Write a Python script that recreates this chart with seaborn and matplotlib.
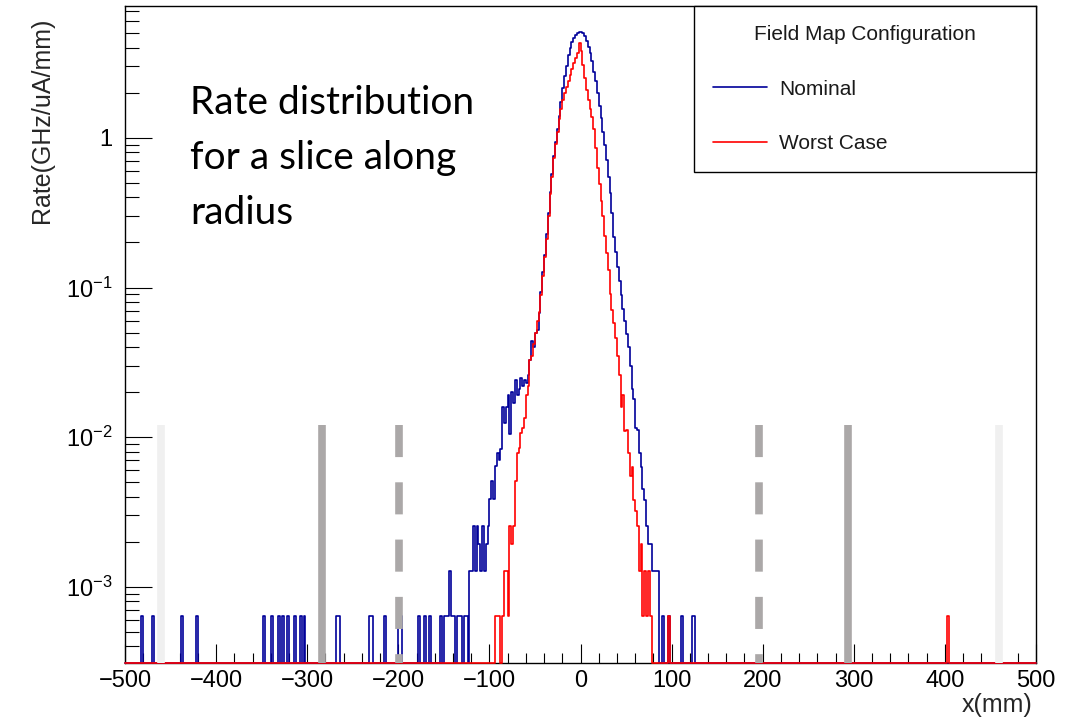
import numpy as np
import pandas as pd
import matplotlib
matplotlib.use("Agg")
import matplotlib.pyplot as plt
import seaborn as sns
from matplotlib.lines import Line2D
from matplotlib.ticker import (LogLocator, MultipleLocator, FixedLocator,
                               FixedFormatter, NullFormatter)

# binning of the histograms (mm)
x_lo, x_hi, bin_w = -500, 500, 2

# Rate (GHz/uA/mm) per 2 mm bin
# Nominal field map, bins from left edge -154 mm
nominal_start = -154
nominal_rate = [
    6.4e-4, 0, 6.4e-4, 6.4e-4, 6.4e-4, 1.28e-3, 6.4e-4, 6.4e-4, 0, 6.4e-4,
    6.4e-4, 6.4e-4, 0, 6.4e-4, 6.4e-4, 0, 1.28e-3, 1.28e-3, 2.56e-3, 1.28e-3,
    2.56e-3, 1.92e-3, 1.28e-3, 2.56e-3, 1.28e-3, 1.92e-3, 2.56e-3, 3.84e-3, 5.1e-3, 3.84e-3,
    6.4e-3, 7.9e-3, 7.0e-3, 8.3e-3, 1.6e-2, 1.25e-2, 1.6e-2, 1.9e-2, 1.05e-2, 2.0e-2,
    1.7e-2, 2.4e-2, 1.9e-2, 2.1e-2, 2.5e-2, 2.2e-2, 2.4e-2, 2.3e-2, 2.6e-2, 3.3e-2,
    4.4e-2, 4.0e-2, 5.0e-2, 5.2e-2, 6.8e-2, 0.093, 0.126, 0.166, 0.229, 0.316,
    0.436, 0.575, 0.759, 0.933, 1.15, 1.41, 1.74, 2.14, 2.57, 3.02,
    3.55, 3.98, 4.37, 4.68, 4.90, 5.01, 5.13, 5.07, 5.01, 4.79,
    4.47, 4.07, 3.67, 3.24, 2.75, 2.40, 2.00, 1.62, 1.35, 1.10,
    0.89, 0.71, 0.55, 0.427, 0.316, 0.219, 0.174, 0.138, 0.110, 0.089,
    0.072, 0.060, 0.049, 0.040, 0.030, 0.021, 0.018, 0.0115, 0.0112, 0.0078,
    0.0063, 0.0045, 0.0038, 2.56e-3, 1.92e-3, 1.92e-3, 1.28e-3, 1.28e-3, 1.28e-3, 1.28e-3,
]
# isolated single-entry bins (left edges, mm)
nominal_single_x = [-482, -470, -438, -422, -348, -340, -332, -328, -322, -314,
                    -308, -304, -268, -266, -232, -230, -216, -200, -198, -178,
                    -172, -166, 90, 96, 110, 122, 124]

# Worst case field map, bins from left edge -94 mm
worst_start = -94
worst_rate = [
    6.4e-4, 6.4e-4, 6.4e-4, 0, 6.4e-4, 1.28e-3, 1.28e-3, 6.4e-4, 2.56e-3, 1.92e-3,
    2.56e-3, 5.1e-3, 7.9e-3, 8.5e-3, 1.07e-2, 1.15e-2, 1.35e-2, 1.9e-2, 2.2e-2, 3.3e-2,
    3.5e-2, 4.2e-2, 5.0e-2, 6.0e-2, 6.9e-2, 0.089, 0.12, 0.16, 0.21, 0.30,
    0.42, 0.55, 0.73, 0.91, 1.10, 1.33, 1.55, 1.78, 2.00, 2.20,
    2.40, 2.63, 2.90, 3.16, 3.40, 3.70, 4.27, 3.80, 3.09, 2.51,
    2.09, 1.78, 1.55, 1.38, 1.15, 0.85, 0.63, 0.49, 0.38, 0.30,
    0.22, 0.17, 0.13, 0.091, 0.071, 0.058, 0.046, 0.035, 0.026, 0.016,
    0.019, 0.011, 0.0112, 0.0079, 0.0055, 0.0063, 0.0038, 3.2e-3, 2.56e-3, 1.28e-3,
    1.92e-3, 6.4e-4, 1.28e-3, 6.4e-4, 1.28e-3, 6.4e-4, 0,
]
worst_single_x = [96, 402]
single_rate = 6.4e-4

y_lo, y_hi = 3.1e-4, 7.6

# boundary markers drawn on the slide (mm)
light_x = [-460, 459]
solid_x = [-284, 294]
dashed_x = [-199, 196]
marker_top = 1.2e-2


def fill_hist(start, rates, singles):
    edges = np.arange(x_lo, x_hi + bin_w, bin_w)
    h = np.zeros(len(edges) - 1)
    i0 = (start - x_lo) // bin_w
    h[i0:i0 + len(rates)] = rates
    for x in singles:
        h[(x - x_lo) // bin_w] = single_rate
    # empty bins sit on the bottom of the frame, as ROOT draws them
    h = np.maximum(h, y_lo)
    return pd.DataFrame({"x": edges[:-1] + bin_w / 2, "rate": h})


nominal_df = fill_hist(nominal_start, nominal_rate, nominal_single_x)
worst_df = fill_hist(worst_start, worst_rate, worst_single_x)

sns.set_style("ticks")
plt.rcParams["font.family"] = ["Liberation Sans", "DejaVu Sans"]
plt.rcParams["axes.edgecolor"] = "black"
plt.rcParams["axes.linewidth"] = 1.0

fig, ax = plt.subplots(figsize=(10.79, 7.18), dpi=100)
fig.subplots_adjust(left=125 / 1079, right=1036 / 1079,
                    bottom=1 - 663 / 718, top=1 - 6 / 718)

sns.histplot(data=nominal_df, x="x", weights="rate", binwidth=bin_w,
             binrange=(x_lo, x_hi), element="step", fill=False,
             color="#000099", linewidth=1.2, ax=ax, clip_on=False, zorder=3)
sns.histplot(data=worst_df, x="x", weights="rate", binwidth=bin_w,
             binrange=(x_lo, x_hi), element="step", fill=False,
             color="#ff0000", linewidth=1.2, ax=ax, clip_on=False, zorder=4)

ax.set_yscale("log")
ax.set_xlim(x_lo, x_hi)
ax.set_ylim(y_lo, y_hi)

# boundary markers
for x in light_x:
    ax.plot([x, x], [marker_top, y_lo], color="#f0f0f0", lw=5.5,
            solid_capstyle="butt", zorder=5, clip_on=False)
for x in solid_x:
    ax.plot([x, x], [marker_top, y_lo], color="#aba8a8", lw=5.5,
            solid_capstyle="butt", zorder=5, clip_on=False)
for x in dashed_x:
    ax.plot([x, x], [marker_top, y_lo], color="#aba8a8", lw=5.5,
            linestyle=(0, (4.2, 3.3)), dash_capstyle="butt", zorder=5,
            clip_on=False)

# ticks, ROOT style
ax.xaxis.set_major_locator(MultipleLocator(100))
ax.xaxis.set_minor_locator(MultipleLocator(20))
ax.yaxis.set_major_locator(FixedLocator([1e-3, 1e-2, 1e-1, 1]))
ax.yaxis.set_major_formatter(FixedFormatter([
    r"$\mathdefault{10^{-3}}$", r"$\mathdefault{10^{-2}}$",
    r"$\mathdefault{10^{-1}}$", "1"]))
ax.yaxis.set_minor_locator(LogLocator(base=10, subs=np.arange(2, 10), numticks=20))
ax.yaxis.set_minor_formatter(NullFormatter())
ax.tick_params(axis="both", which="both", direction="in", top=False,
               right=False, color="black", labelcolor="black")
ax.tick_params(axis="x", which="major", length=14, width=0.8, labelsize=17, pad=5)
ax.tick_params(axis="x", which="minor", length=7, width=0.8)
ax.tick_params(axis="y", which="major", length=19.5, width=0.8, labelsize=17, pad=9)
ax.tick_params(axis="y", which="minor", length=10, width=0.8)
for s in ax.spines.values():
    s.set_visible(True)
    s.set_color("black")

ax.set_xlabel("x(mm)", fontsize=18, loc="right")
ax.set_ylabel("Rate(GHz/uA/mm)", fontsize=18, loc="top")
ax.xaxis.set_label_coords(0.996, -0.046)
ax.yaxis.set_label_coords(-0.078, 0.982)

handles = [Line2D([], [], color="#000099", lw=1.2),
           Line2D([], [], color="#ff0000", lw=1.2)]
leg = ax.legend(handles, ["Nominal", "Worst Case"],
                title="Field Map Configuration", loc="upper left",
                bbox_to_anchor=(0.6246, 0.748, 0.3754, 0.252), mode="expand",
                borderaxespad=0, fontsize=15, title_fontsize=15,
                frameon=True, fancybox=False, framealpha=1,
                edgecolor="black", borderpad=0.9, labelspacing=1.72,
                handlelength=2.6, handletextpad=0.58)
leg.get_frame().set_linewidth(1.0)
for t in leg.get_texts() + [leg.get_title()]:
    t.set_color("#1a1a1a")

fig.text(190 / 1079, 1 - 85 / 718, "Rate distribution\nfor a slice along\nradius",
         fontsize=28, family=["Lato", "DejaVu Sans"], va="top", ha="left",
         linespacing=1.66, color="black")

fig.savefig("out.png", dpi=100)
